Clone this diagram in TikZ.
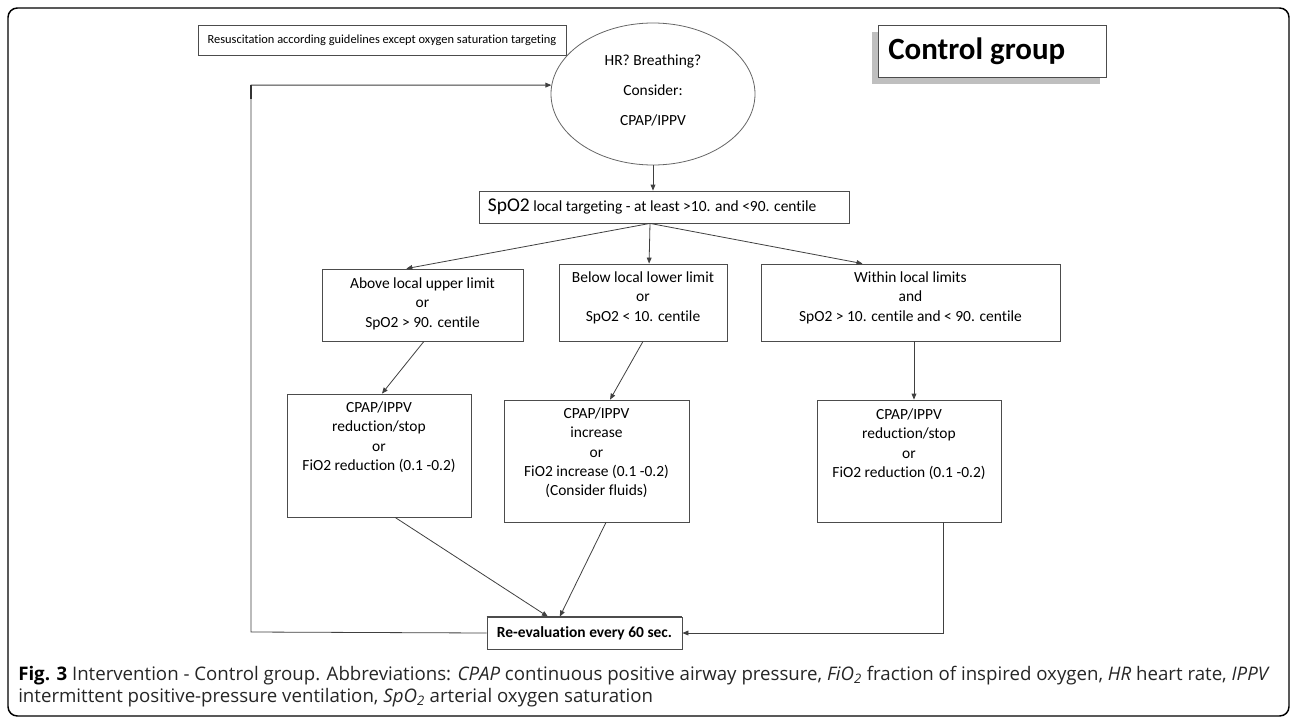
\documentclass[tikz,border=0pt]{standalone}
\usepackage{fontspec}
\setmainfont[Ligatures={NoCommon}]{Carlito}
\newfontfamily\capfont{Open Sans}
\usetikzlibrary{shapes.geometric,arrows.meta,calc}
\begin{document}
\begin{tikzpicture}[x=0.75pt,y=-0.75pt,
  ln/.style={draw=black!75, line width=0.6pt},
  arr/.style={ln, -{Triangle[length=4.5pt,width=3.6pt]}},
  bx/.style={draw=black!70, line width=0.6pt, rectangle, inner sep=0pt, fill=white},
  txt/.style={font=\fontsize{11.6}{14.6}\selectfont, align=center, inner sep=0pt, anchor=north},
]
\useasboundingbox (0,0) rectangle (1290,722);
\fill[white] (0,0) rectangle (1290,722);
\draw[line width=1.1pt, rounded corners=7pt] (8,8) rectangle (1289,716);

% top
\node[bx, minimum width=276pt, minimum height=22.5pt, font=\fontsize{9.3}{11}\selectfont] (tl) at (382,40) {Resuscitation according guidelines except oxygen saturation targeting};
\node[draw=black!60, line width=0.6pt, ellipse, minimum width=153pt, minimum height=106.5pt, inner sep=0pt] (ell) at (653,94) {};
\node[font=\fontsize{11.6}{22.5}\selectfont, align=center, inner sep=0pt] (ellt) at (653,90) {HR? Breathing?\\Consider:\\CPAP/IPPV};
\node[fill=black!25, minimum width=171pt, minimum height=39pt, inner sep=0pt] (cgs) at (985.5,58) {};
\node[bx, minimum width=171pt, minimum height=39pt] (cg) at (992,51) {};
\node[anchor=base west, inner sep=0pt, font=\fontsize{23.2}{26}\selectfont\bfseries] (cgt) at (888,59) {Control group};

% SpO2
\node[bx, minimum width=277.5pt, minimum height=24pt] (spo) at (664,207) {};
\node[anchor=west, inner sep=0pt, font=\fontsize{11.6}{14}\selectfont] (spot) at ($(spo.west)+(9,0)$) {{\fontsize{14.6}{16}\selectfont SpO2} local targeting - at least >10. and <90. centile};

% middle row
\node[bx, minimum width=150.75pt, minimum height=54pt] (b1) at (422.5,305) {};
\node[bx, minimum width=126pt, minimum height=57.75pt] (b2) at (643,302.5) {};
\node[bx, minimum width=224.25pt, minimum height=57.75pt] (b3) at (910.5,302.5) {};
\node[txt] (b1t) at ($(b1.north)+(0,8.5)$) {Above local upper limit\\or\\SpO2 > 90. centile};
\node[txt] (b2t) at ($(b2.north)+(0,7.5)$) {Below local lower limit\\or\\SpO2 < 10. centile};
\node[txt] (b3t) at ($(b3.north)+(0,7.5)$) {Within local limits\\and\\SpO2 > 10. centile and < 90. centile};

% lower row
\node[bx, minimum width=138pt, minimum height=92.25pt] (b1b) at (379,455.5) {};
\node[bx, minimum width=138.75pt, minimum height=91.5pt] (b2b) at (596.5,461) {};
\node[bx, minimum width=138pt, minimum height=91.5pt] (b3b) at (909,461) {};
\node[txt] (b1bt) at ($(b1b.north)+(0,7.5)$) {CPAP/IPPV\\reduction/stop\\or\\FiO2 reduction (0.1 -0.2)};
\node[txt] (b2bt) at ($(b2b.north)+(0,7.5)$) {CPAP/IPPV\\increase\\or\\FiO2 increase (0.1 -0.2)\\(Consider fluids)};
\node[txt] (b3bt) at ($(b3b.north)+(0,8.5)$) {CPAP/IPPV\\reduction/stop\\or\\FiO2 reduction (0.1 -0.2)};

% re-evaluation
\node[bx, minimum width=146.25pt, minimum height=24pt, font=\fontsize{11.6}{14}\selectfont\bfseries] (rev) at (584.5,633) {Re-evaluation every 60 sec.};
\draw[line width=1.3pt, black!70] (rev.north west) -- (rev.north east);

% connectors
\draw[arr] (ell.south) -- (ell.south |- spo.north);
\coordinate (fan) at ($(spo.south)+(-14,0)$);
\draw[arr] (fan) -- ($(b1.north west)!0.42!(b1.north east)$);
\draw[arr] (fan) -- ($(b2.north west)!0.536!(b2.north east)$);
\draw[arr] (fan) -- ($(b3.north west)!0.34!(b3.north east)$);
\draw[arr] ($(b1.south west)!0.507!(b1.south east)$) -- ($(b1b.north west)!0.516!(b1b.north east)$);
\draw[arr] ($(b2.south west)!0.5!(b2.south east)$) -- ($(b2b.north west)!0.573!(b2b.north east)$);
\coordinate (b3in) at ($(b3b.north west)!0.527!(b3b.north east)$);
\draw[arr] (b3in |- b3.south) -- (b3in);
\draw[arr] ($(b1b.south west)!0.587!(b1b.south east)$) -- ($(rev.north west)!0.313!(rev.north east)$);
\draw[arr] ($(b2b.south west)!0.551!(b2b.south east)$) -- ($(rev.north west)!0.374!(rev.north east)$);
\draw[arr] ($(b3b.south west)!0.685!(b3b.south east)$) |- (rev.east);
\coordinate (lpb) at (251,632);
\draw[arr] (rev.west) -- (lpb) |- (ell.175);
\coordinate (lpt) at (lpb |- ell.175);
\draw[line width=1.5pt, black!80] (lpt) -- ($(lpt)+(0,14)$);

% caption
\node[anchor=north west, align=left, inner sep=0pt, font=\capfont\fontsize{14}{16.5}\selectfont, text=black!85] (cap) at (18,666) {\textbf{\color{black}Fig. 3} Intervention - Control group. Abbreviations: \textit{CPAP} continuous positive airway pressure, \textit{FiO\textsubscript{2}} fraction of inspired oxygen, \textit{HR} heart rate, \textit{IPPV}\\intermittent positive-pressure ventilation, \textit{SpO\textsubscript{2}} arterial oxygen saturation};
\end{tikzpicture}
\end{document}
